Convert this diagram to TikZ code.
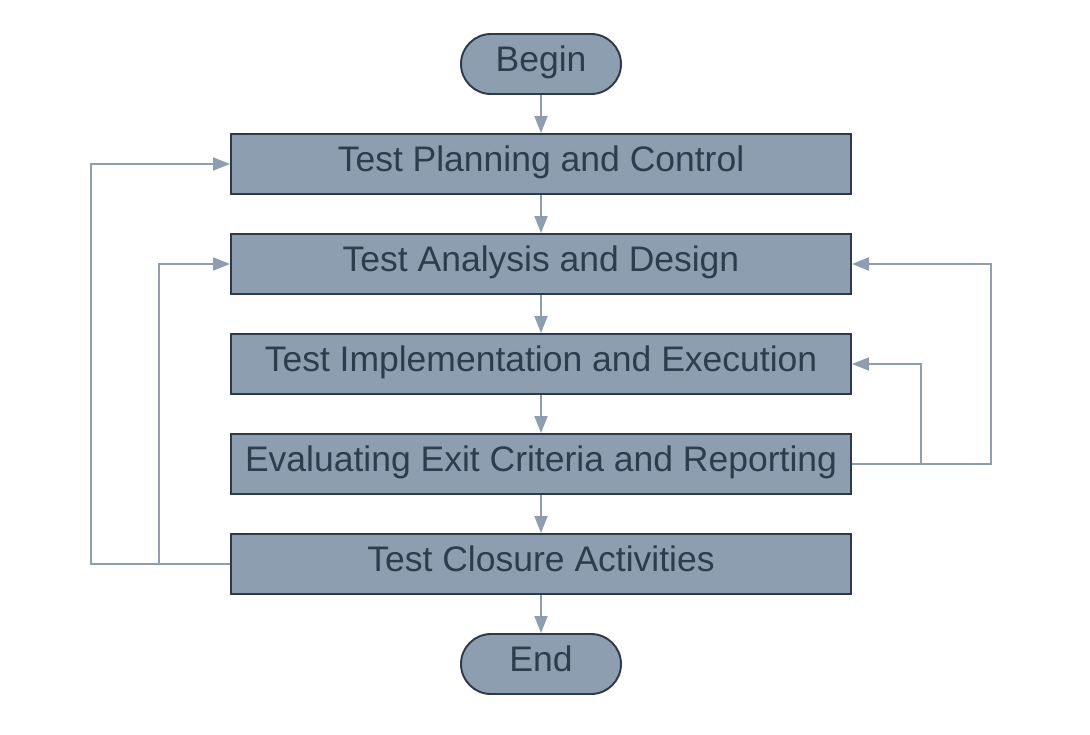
\documentclass[tikz,border=0pt]{standalone}
\usepackage{fontspec}
\setmainfont{Liberation Sans}
\usetikzlibrary{arrows.meta,positioning,calc}
\definecolor{boxfill}{HTML}{8D9EB0}
\definecolor{boxline}{HTML}{2C3A4A}
\definecolor{boxtext}{HTML}{2E3D4E}
\definecolor{flowline}{HTML}{8C9EB0}

\begin{document}
\begin{tikzpicture}[
  >={Triangle[length=0.34cm,width=0.26cm]},
  stage/.style={rectangle,draw=boxline,fill=boxfill,line width=1.1pt,
    minimum width=12.4cm,minimum height=1.2cm,inner sep=0pt,
    text height=0.6cm,text depth=0.29cm,
    text=boxtext,font=\fontsize{20.2}{24}\selectfont},
  terminal/.style={stage,rounded corners=0.6cm,minimum width=3.2cm},
  arc/.style={->,draw=flowline,line width=1.1pt}
]
  \useasboundingbox (0,0) rectangle (21.8,-14.68);

  \node[terminal] (begin) at (10.82,-1.28) {Begin};
  \node[stage] (plan) at (10.82,-3.28) {Test Planning and Control};
  \node[stage] (analysis) at (10.82,-5.28) {Test Analysis and Design};
  \node[stage] (impl) at (10.82,-7.28) {Test Implementation and Execution};
  \node[stage] (eval) at (10.82,-9.28) {Evaluating Exit Criteria and Reporting};
  \node[stage] (close) at (10.82,-11.28) {Test Closure Activities};
  \node[terminal] (end) at (10.82,-13.28) {End};

  \draw[arc] (begin) -- (plan);
  \draw[arc] (plan) -- (analysis);
  \draw[arc] (analysis) -- (impl);
  \draw[arc] (impl) -- (eval);
  \draw[arc] (eval) -- (close);
  \draw[arc] (close) -- (end);

  % feedback loops
  \draw[arc] (close.west) -- ++(-2.78,0) |- (plan.west);
  \draw[arc] (close.west) -- ++(-1.42,0) |- (analysis.west);
  \draw[arc] (eval.east) -- ++(2.78,0) |- (analysis.east);
  \draw[arc] (eval.east) -- ++(1.38,0) |- (impl.east);
\end{tikzpicture}
\end{document}
